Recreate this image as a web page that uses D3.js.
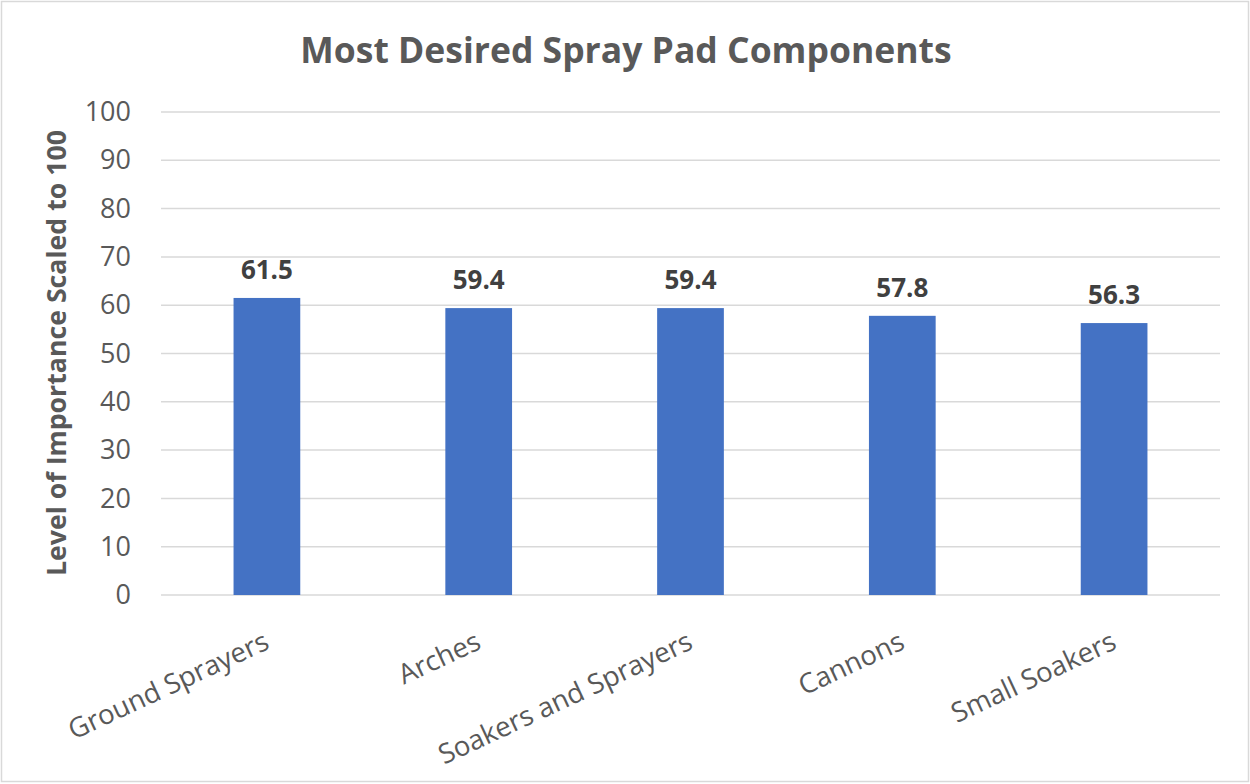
<!DOCTYPE html>
<html><head><meta charset="utf-8">
<script src="https://cdn.jsdelivr.net/npm/d3@7"></script>
<style>body{margin:0;background:#fff;} svg{display:block;font-family:"Open Sans",sans-serif;}</style>
</head><body>
<svg id="c" width="1250" height="784"></svg>
<script>
const categories = ["Ground Sprayers","Arches","Soakers and Sprayers","Cannons","Small Soakers"];
const values = [61.5, 59.4, 59.4, 57.8, 56.3];
const yTicks = [0,10,20,30,40,50,60,70,80,90,100];
const title = "Most Desired Spray Pad Components";
const yTitle = "Level of Importance Scaled to 100";

const svg = d3.select("#c");
svg.append("rect").attr("x",1.5).attr("y",1.5).attr("width",1247).attr("height",780)
  .attr("fill","#fff").attr("stroke","#d9d9d9").attr("stroke-width",1.5);

const x = d3.scaleBand().domain(categories).range([161,1220]).padding(0);
const y = d3.scaleLinear().domain([0,100]).range([595,112]);
const barW = x.bandwidth()*0.315;

svg.append("g").selectAll("line").data(yTicks).join("line")
  .attr("x1",161).attr("x2",1220).attr("y1",d=>y(d)).attr("y2",d=>y(d))
  .attr("stroke","#d9d9d9").attr("stroke-width",1.5);

const yAxis = d3.axisLeft(y).tickValues(yTicks).tickSize(0).tickPadding(0);
const gy = svg.append("g").attr("transform","translate(131,0)").call(yAxis);
gy.select(".domain").remove();
gy.selectAll("text").attr("font-size",27).attr("fill","#595959").attr("font-family","'Open Sans', sans-serif");

svg.append("g").selectAll("rect").data(values).join("rect")
  .attr("x",(d,i)=>x(categories[i])+x.bandwidth()/2-barW/2)
  .attr("width",barW)
  .attr("y",d=>y(d)).attr("height",d=>y(0)-y(d))
  .attr("fill","#4472C4");

svg.append("g").selectAll("text").data(values).join("text")
  .attr("x",(d,i)=>x(categories[i])+x.bandwidth()/2)
  .attr("y",d=>y(d)-19)
  .attr("text-anchor","middle").attr("font-size",26).attr("font-weight","bold")
  .attr("fill","#404040").text(d=>d.toFixed(1));

svg.append("g").selectAll("text").data(categories).join("text")
  .attr("text-anchor","end").attr("font-size",27.5).attr("fill","#595959")
  .attr("transform",d=>`translate(${x(d)+x.bandwidth()/2+4},${648}) rotate(-25)`)
  .text(d=>d);

svg.append("text").attr("x",626).attr("y",63).attr("text-anchor","middle")
  .attr("font-size",35.5).attr("font-weight","bold").attr("fill","#595959").text(title);

svg.append("text").attr("transform","translate(66,353) rotate(-90)")
  .attr("text-anchor","middle").attr("font-size",26.7).attr("font-weight","bold")
  .attr("fill","#595959").text(yTitle);
</script>
</body></html>
